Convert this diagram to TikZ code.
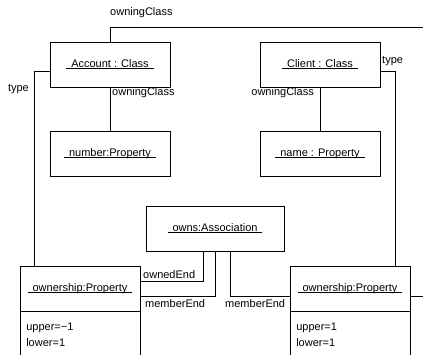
\documentclass[tikz,border=0pt]{standalone}
\usepackage{fontspec}
\setmainfont{Liberation Sans}
\usetikzlibrary{positioning}
\newcommand{\objname}[1]{\sbox0{\kern5pt#1\kern5pt}\rlap{\rule[-1.2pt]{\wd0}{0.7pt}}\usebox0}

\begin{document}
\begin{tikzpicture}[
    x=1pt, y=-1pt,
    font=\fontsize{11}{16}\selectfont,
    objbox/.style={rectangle, draw, line width=0.8pt, minimum width=120pt, minimum height=45pt, inner sep=0pt},
    attrbox/.style={rectangle, draw, line width=0.8pt, minimum width=120pt, minimum height=55pt, inner sep=0pt},
    attrs/.style={align=left, inner sep=0pt, anchor=north west},
    link/.style={line width=0.8pt},
    role/.style={inner sep=0pt}
]

\useasboundingbox (0,0) rectangle (423,355);
\clip (0,0) rectangle (423,355);

% === Classes ===
\node[objbox] (account) at (110,64.5) {\objname{Account : Class}};
\node[objbox] (client) at (320,64.5) {\objname{Client : Class}};

% === Owned properties ===
\node[objbox] (number) at (110,153.5) {\objname{number:Property}};
\node[objbox] (name) at (320,153.5) {\objname{name : Property}};

% === Association ===
\node[objbox, minimum width=138pt] (owns) at (215,228.5) {\objname{owns:Association}};

% === Association ends ===
\node[objbox] (ownL) at (80,288.5) {\objname{ownership:Property}};
\node[attrbox, below=0pt of ownL] (ownLattr) {};
\node[attrs] (ownLvals) at ([xshift=6.5pt,yshift=-11pt]ownLattr.north west) {upper=−1\\lower=1};

\node[objbox] (ownR) at (350,288.5) {\objname{ownership:Property}};
\node[attrbox, below=0pt of ownR] (ownRattr) {};
\node[attrs] (ownRvals) at ([xshift=6.5pt,yshift=-11pt]ownRattr.north west) {upper=1\\lower=1};

% free corner, outside the visible part
\coordinate (farR) at (440,27);

% Links
\draw[link] ([yshift=-7.5pt]ownR.east) -| (farR) -| (account.north);
\draw[link] (account.south) -- (number.north);
\draw[link] (client.south) -- (name.north);
\draw[link] ([yshift=-7pt]account.west) -| ([xshift=15pt]ownL.north west);
\draw[link] ([yshift=-7pt]client.east) -| ([xshift=-15pt]ownR.north east);
\draw[link] ([xshift=-12pt]owns.south) |- ([yshift=7.5pt]ownL.east);
\draw[link] (owns.south) |- ([yshift=-7.5pt]ownL.east);
\draw[link] ([xshift=15pt]owns.south) |- ([yshift=-7.5pt]ownR.west);

% Role names
\node[role, anchor=west] (lblTop) at (110,13) {owningClass};
\node[role, anchor=west] (lblAcc) at (112,93) {owningClass};
\node[role, anchor=east] (lblCli) at (314,93) {owningClass};
\node[role, anchor=east] (lblTypeL) at (29,89) {type};
\node[role, anchor=west] (lblTypeR) at (382,61) {type};
\node[role, anchor=south west] (lblOwned) at (143,279) {ownedEnd};
\node[role, anchor=north west] (lblMemL) at (145,299) {memberEnd};
\node[role, anchor=north west] (lblMemR) at (225,299) {memberEnd};

\end{tikzpicture}
\end{document}
